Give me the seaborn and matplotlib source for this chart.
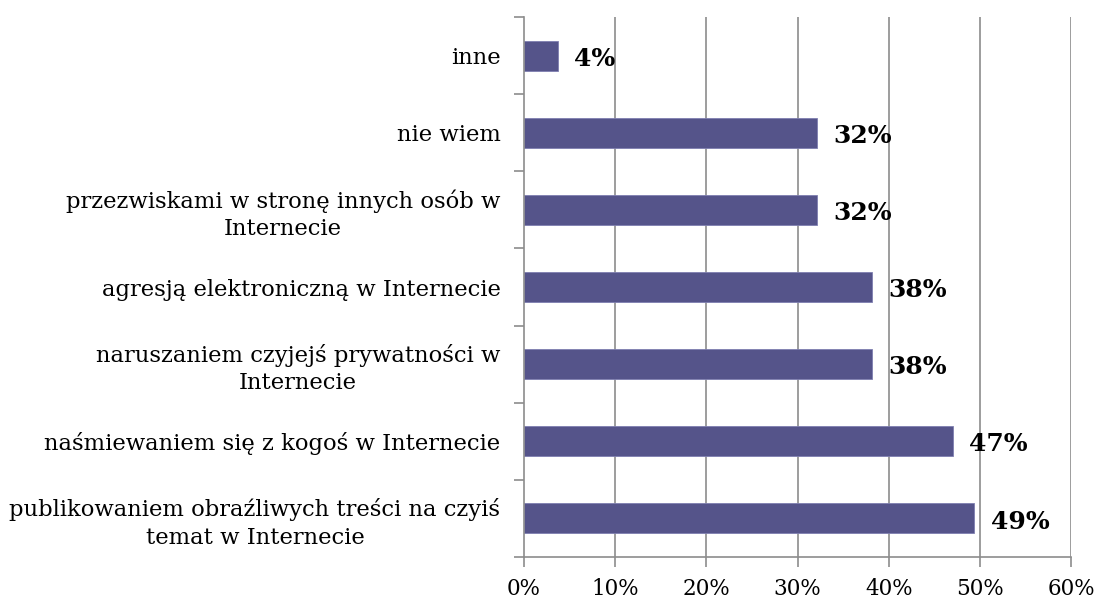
import numpy as np
import pandas as pd
import seaborn as sns
import matplotlib.pyplot as plt

categories = [
    'inne',
    'nie wiem',
    'przezwiskami w stronę innych osób w\nInternecie',
    'agresją elektroniczną w Internecie',
    'naruszaniem czyjejś prywatności w\nInternecie',
    'naśmiewaniem się z kogoś w Internecie',
    'publikowaniem obraźliwych treści na czyiś\ntemat w Internecie',
]
values = [3.7, 32.1, 32.1, 38.2, 38.2, 47.0, 49.4]
x_ticks = [0, 10, 20, 30, 40, 50, 60]

df = pd.DataFrame({'kategoria': categories, 'procent': values})

sns.set_style('white')
plt.rcParams['font.family'] = ['DejaVu Serif']
plt.rcParams['text.color'] = 'black'

fig = plt.figure(figsize=(11, 6.01), dpi=100)
ax = fig.add_axes([0.4764, 0.0732, 0.4973, 0.8985])

sns.barplot(data=df, x='procent', y='kategoria', color='#55548a', width=0.39,
            edgecolor='#7f7fb0', linewidth=0.6, saturation=1, ax=ax)

grid_col = '#8c8c8c'
ax.set_xlim(0, 60)
ax.set_ylim(len(categories) - 0.5, -0.5)
ax.set_xticks(x_ticks)
ax.set_xticklabels([f'{t}%' for t in x_ticks], fontsize=15.5, color='black')
for t in x_ticks[1:]:
    ax.axvline(t, color=grid_col, lw=1.2, zorder=0)

# ticks sit at category boundaries, labels at the centres
ax.set_yticks(np.arange(-0.5, len(categories), 1))
ax.set_yticklabels([])
ax.set_yticks(np.arange(len(categories)), minor=True)
ax.set_yticklabels(categories, minor=True, fontsize=16.3, color='black',
                   multialignment='center', linespacing=1.3)
ax.tick_params(axis='y', which='major', length=7, width=1.2, color=grid_col, direction='out', left=True)
ax.tick_params(axis='y', which='minor', length=0, pad=17)
ax.tick_params(axis='x', length=7, width=1.2, color=grid_col, direction='out', bottom=True, pad=8)

ax.set_xlabel('')
ax.set_ylabel('')
for s in ['top', 'right']:
    ax.spines[s].set_visible(False)
for s in ['left', 'bottom']:
    ax.spines[s].set_color(grid_col)
    ax.spines[s].set_linewidth(1.2)

for i, v in enumerate(values):
    ax.text(v + 1.8, i + 0.04, f'{round(v)}%', va='center', ha='left',
            fontsize=18, fontweight='bold', color='black')

fig.savefig('out.png', dpi=100)
